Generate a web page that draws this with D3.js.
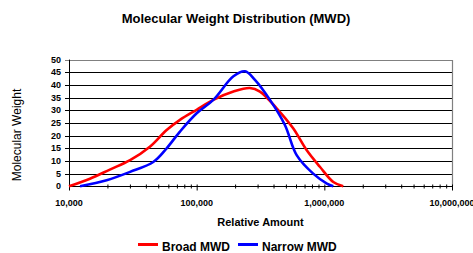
<!DOCTYPE html>
<html>
<head>
<meta charset="utf-8">
<script src="https://cdn.jsdelivr.net/npm/d3@7"></script>
<style>
  body { margin: 0; background: #fff; }
  svg { display: block; font-family: "Liberation Sans", Arial, sans-serif; }
</style>
</head>
<body>
<div id="chart"></div>
<script>
// datos
let broadX = [10000, 14600, 20900, 30100, 43000, 58200, 74000, 100000, 135000, 194000, 261000, 313000, 423000, 570000, 726000, 923000, 1175000, 1406000];
let broadY = [0, 3, 6.6, 10.3, 15.6, 22.2, 26.2, 30.2, 34.1, 37.4, 38.8, 37.4, 30.8, 22.9, 14.3, 7.7, 1.7, 0];
let narrowX = [12200, 19700, 30100, 45700, 58200, 74000, 100000, 135000, 194000, 239000, 286000, 375000, 491000, 607000, 818000, 1047000, 1175000];
let narrowY = [0, 2.4, 5.7, 9.6, 15, 21.6, 28.8, 34.1, 43.4, 45.4, 42, 34.1, 24.2, 12.3, 5, 1.1, 0];
let yTicks = [0, 5, 10, 15, 20, 25, 30, 35, 40, 45, 50];
let xTicks = [10000, 100000, 1000000, 10000000];
let seriesNames = ['Broad MWD', 'Narrow MWD'];
let seriesColors = ['#ff0000', '#0000ff'];

let width = 473;
let height = 253;
let plotLeft = 69, plotRight = 452, plotTop = 59.6, plotBottom = 186.3;

let svg = d3.select('#chart').append('svg')
    .attr('width', width)
    .attr('height', height);

let x = d3.scaleLog().domain([1e4, 1e7]).range([plotLeft, plotRight]);
let y = d3.scaleLinear().domain([0, 50]).range([plotBottom, plotTop]);

// titulo
svg.append('text')
    .attr('x', 236)
    .attr('y', 23)
    .attr('text-anchor', 'middle')
    .style('font-size', '13px')
    .style('font-weight', 'bold')
    .text('Molecular Weight Distribution (MWD)');

// lineas de la rejilla
svg.selectAll('.grid')
    .data(yTicks.filter(d => d > 0 && d < 50))
    .join('line')
    .attr('class', 'grid')
    .attr('x1', plotLeft - 4)
    .attr('x2', plotRight)
    .attr('y1', d => Math.round(y(d)) + 0.5)
    .attr('y2', d => Math.round(y(d)) + 0.5)
    .attr('stroke', '#000')
    .attr('stroke-width', 1);

// borde gris arriba y derecha
svg.append('path')
    .attr('d', `M${plotLeft - 4},${Math.round(plotTop) + 0.5}H${plotRight + 0.5}V${plotBottom}`)
    .attr('fill', 'none')
    .attr('stroke', '#808080')
    .attr('stroke-width', 1.2);

// eje y
svg.append('line')
    .attr('x1', plotLeft + 0.5).attr('x2', plotLeft + 0.5)
    .attr('y1', plotTop).attr('y2', plotBottom + 1)
    .attr('stroke', '#000');

svg.selectAll('.ylab')
    .data(yTicks)
    .join('text')
    .attr('class', 'ylab')
    .attr('x', 61)
    .attr('y', d => y(d) + 3)
    .attr('text-anchor', 'end')
    .style('font-size', '9px')
    .style('font-weight', 'bold')
    .text(d => d);

// eje x
let xAxis = d3.axisBottom(x)
    .tickValues(d3.range(4, 7).flatMap(p => d3.range(1, 10).map(k => k * Math.pow(10, p))).concat([1e7]))
    .tickSize(3)
    .tickFormat(() => '');

let gx = svg.append('g')
    .attr('transform', `translate(0,${Math.round(plotBottom) + 0.5})`)
    .call(xAxis);
gx.select('.domain').attr('stroke', '#000').attr('d', `M${plotLeft},0H${plotRight + 1}`);
gx.selectAll('.tick line')
    .attr('y1', -2)
    .attr('y2', d => xTicks.includes(d) ? 4 : 2)
    .attr('stroke', '#000');

svg.selectAll('.xlab')
    .data(xTicks)
    .join('text')
    .attr('class', 'xlab')
    .attr('x', d => x(d))
    .attr('y', 205.5)
    .attr('text-anchor', 'middle')
    .style('font-size', '9px')
    .style('font-weight', 'bold')
    .text(d => d3.format(',')(d));

// titulos de los ejes
svg.append('text')
    .attr('x', (plotLeft + plotRight) / 2)
    .attr('y', 225.5)
    .attr('text-anchor', 'middle')
    .style('font-size', '11px')
    .style('font-weight', 'bold')
    .text('Relative Amount');

svg.append('text')
    .attr('transform', 'translate(20.5,135) rotate(-90)')
    .attr('text-anchor', 'middle')
    .style('font-size', '12px')
    .text('Molecular Weight');

// series
let line = d3.line()
    .x(d => x(d[0]))
    .y(d => y(d[1]))
    .curve(d3.curveCatmullRom.alpha(0.5));

let series = [
    d3.zip(broadX, broadY),
    d3.zip(narrowX, narrowY)
];

svg.selectAll('.serie')
    .data(series)
    .join('path')
    .attr('class', 'serie')
    .attr('d', line)
    .attr('fill', 'none')
    .attr('stroke', (d, i) => seriesColors[i])
    .attr('stroke-width', 2.6)
    .attr('stroke-linejoin', 'round');

// leyenda
let legendPos = [138, 238];
let legend = svg.selectAll('.legend-item')
    .data(seriesNames)
    .join('g')
    .attr('class', 'legend-item')
    .attr('transform', (d, i) => `translate(${legendPos[i]},0)`);

legend.append('line')
    .attr('x1', 0).attr('x2', 20)
    .attr('y1', 244.5).attr('y2', 244.5)
    .attr('stroke', (d, i) => seriesColors[i])
    .attr('stroke-width', 3);

legend.append('text')
    .attr('x', 24)
    .attr('y', 251)
    .style('font-size', '12px')
    .style('font-weight', 'bold')
    .text(d => d);
</script>
</body>
</html>
